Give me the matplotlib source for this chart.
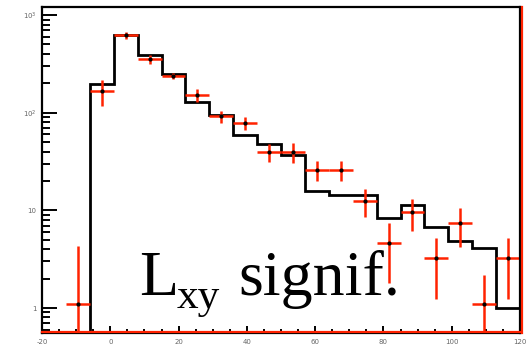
import numpy as np
import matplotlib
matplotlib.use("Agg")
import matplotlib.pyplot as plt
import matplotlib.transforms as mtransforms
from matplotlib.ticker import FixedLocator, FixedFormatter, LogLocator, NullFormatter, MultipleLocator

# Histogram binning (20 bins of width 7 on [-20, 120])
bin_edges = [-20, -13, -6, 1, 8, 15, 22, 29, 36, 43, 50,
             57, 64, 71, 78, 85, 92, 99, 106, 113, 120]

# Simulated expectation (black outline)
mc_counts = [0, 0, 196, 624, 389, 249, 129, 94.6, 59, 47.8,
             36.8, 15.8, 14.4, 14.4, 8.35, 11.3, 6.75, 4.85, 4.11, 1.0]

# Measured points with symmetric uncertainties (red crosses)
data_counts = [0, 1.1, 167, 624, 354, 237, 152, 92, 78, 39.6,
               39.6, 25.9, 25.9, 12.5, 4.6, 9.6, 3.25, 7.4, 1.1, 3.25]
data_errors = [0, 3.2, 50, 50, 40, 17, 22, 13, 12, 8,
               9, 6, 6, 4, 2.8, 3.5, 2, 3.2, 1.1, 2]

x_tick_values = [-20, 0, 20, 40, 60, 80, 100, 120]
x_tick_labels = ["-20", "0", "20", "40", "60", "80", "100", "120"]
y_tick_values = [1, 10, 100, 1000]
y_tick_labels = ["1", "10", r"10$^{2}$", r"10$^{3}$"]

W, H = 528, 354
fig = plt.figure(figsize=(W / 100, H / 100), dpi=100)
fig.patch.set_facecolor("white")

left, right, top, bottom = 42, 520, 7, 333
ax = fig.add_axes([left / W, 1 - bottom / H, (right - left) / W, (bottom - top) / H])

ax.set_yscale("log")
ymin, ymax = 0.555, 1210
ax.set_xlim(bin_edges[0], bin_edges[-1])
ax.set_ylim(ymin, ymax)

edges = np.asarray(bin_edges, dtype=float)
mc = np.asarray(mc_counts, dtype=float)
vals = np.asarray(data_counts, dtype=float)
errs = np.asarray(data_errors, dtype=float)
centers = 0.5 * (edges[:-1] + edges[1:])

floor = ymin * 0.2
mc_draw = np.where(mc > 0, mc, floor)
ax.stairs(mc_draw, edges, color="black", linewidth=2.0, baseline=floor, zorder=3)

red = "#ff2200"
keep = vals > 0
lo = np.maximum(vals - errs, floor)
hi = vals + errs
ax.vlines(centers[keep], lo[keep], hi[keep], color=red, linewidth=1.8, zorder=4)
ax.hlines(vals[keep], edges[:-1][keep], edges[1:][keep], color=red, linewidth=1.8, zorder=4)
ax.plot(centers[keep], vals[keep], "o", color="black", markersize=2.0, zorder=5)

# Frame: black axes box, with a red copy of bottom and right edges
for s in ax.spines.values():
    s.set_linewidth(1.6)
    s.set_color("black")
    s.set_zorder(6)
off = mtransforms.offset_copy(ax.transAxes, fig=fig, x=0, y=1.2 / 100 * 72 / 72, units="points")
ax.plot([0, 1], [0, 0], color=red, linewidth=1.6, transform=mtransforms.offset_copy(ax.transAxes, fig=fig, x=0, y=1.0, units="dots"),
        clip_on=False, zorder=7)
ax.plot([1, 1], [0, 1], color=red, linewidth=1.6, transform=mtransforms.offset_copy(ax.transAxes, fig=fig, x=1.5, y=0, units="dots"),
        clip_on=False, zorder=7)

# Ticks
ax.xaxis.set_major_locator(FixedLocator(x_tick_values))
ax.xaxis.set_major_formatter(FixedFormatter(x_tick_labels))
ax.xaxis.set_minor_locator(MultipleLocator(5))
ax.yaxis.set_major_locator(FixedLocator(y_tick_values))
ax.yaxis.set_major_formatter(FixedFormatter(y_tick_labels))
ax.yaxis.set_minor_locator(LogLocator(base=10, subs=np.arange(2, 10)))
ax.yaxis.set_minor_formatter(NullFormatter())

ax.tick_params(axis="x", which="major", direction="in", length=5, width=1.4, pad=4,
               labelsize=5, labelcolor="#666666", top=False)
ax.tick_params(axis="x", which="minor", direction="in", length=2.6, width=1.4, top=False)
ax.tick_params(axis="y", which="major", direction="in", length=11, width=1.4, pad=4,
               labelsize=5, labelcolor="#666666", right=False)
ax.tick_params(axis="y", which="minor", direction="in", length=5.5, width=1.4, right=False)

# Variable name drawn on the plot
serif = "Liberation Serif"
fs = 46
fig.text(139 / W, 1 - 295 / H, "L", fontsize=fs, family=serif, color="black", va="baseline", ha="left")
fig.text(177 / W, 1 - 308 / H, "xy", fontsize=fs * 0.68, family=serif, color="black", va="baseline", ha="left")
fig.text(238 / W, 1 - 295 / H, "signif.", fontsize=fs, family=serif, color="black", va="baseline", ha="left")

fig.savefig("out.png", dpi=100, facecolor="white")
